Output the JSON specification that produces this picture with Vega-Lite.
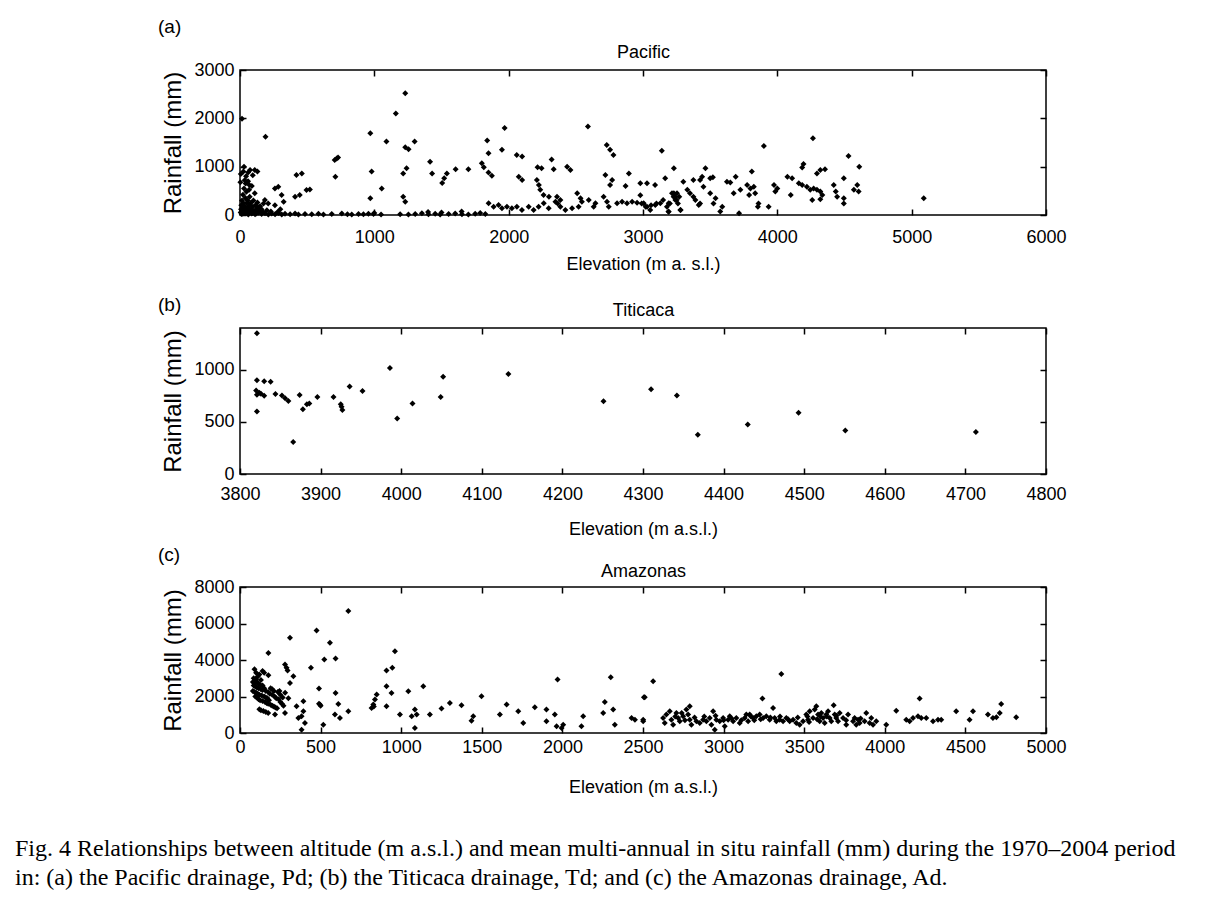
{
  "$schema": "https://vega.github.io/schema/vega-lite/v6.json",
  "background": "white",
  "padding": {"left": 15, "top": 17, "right": 5, "bottom": 5},
  "bounds": "flush",
  "spacing": 113,
  "title": {
    "text": ["Fig. 4  Relationships between altitude (m a.s.l.) and mean multi-annual in situ rainfall (mm) during the 1970–2004 period", "in: (a) the Pacific drainage, Pd; (b) the Titicaca drainage, Td; and (c) the Amazonas drainage, Ad."],
    "orient": "bottom", "anchor": "start", "frame": "group", "dx": -225, "offset": 40,
    "font": "Liberation Serif", "fontSize": 24, "lineHeight": 29, "fontWeight": "normal", "color": "black"
  },
  "datasets": {
    "pacific": [
      {"e":1230,"r":2520},{"e":1160,"r":2100},{"e":15,"r":1990},{"e":190,"r":1620},{"e":970,"r":1690},{"e":1090,"r":1520},{"e":1300,"r":1520},{"e":1230,"r":1400},{"e":1255,"r":1360},{"e":1970,"r":1800},{"e":2590,"r":1830},{"e":1840,"r":1540},{"e":1850,"r":1280},{"e":1950,"r":1350},{"e":2060,"r":1240},{"e":2100,"r":1210},{"e":705,"r":1140},{"e":730,"r":1190},{"e":720,"r":1170},{"e":2730,"r":1450},{"e":2755,"r":1350},{"e":2780,"r":1240},{"e":2320,"r":1150},{"e":2215,"r":990},{"e":2245,"r":965},{"e":2335,"r":945},{"e":2435,"r":1000},{"e":2460,"r":930},{"e":1800,"r":1070},{"e":1815,"r":990},{"e":1850,"r":880},{"e":1875,"r":810},{"e":1605,"r":945},{"e":1700,"r":945},{"e":1540,"r":860},{"e":1520,"r":760},{"e":1505,"r":660},{"e":1415,"r":1100},{"e":1430,"r":860},{"e":1215,"r":860},{"e":1240,"r":965},{"e":980,"r":900},{"e":710,"r":790},{"e":420,"r":830},{"e":460,"r":860},{"e":110,"r":930},{"e":75,"r":930},{"e":30,"r":1000},{"e":2720,"r":830},{"e":2770,"r":725},{"e":2895,"r":860},{"e":2755,"r":620},{"e":2870,"r":600},{"e":2980,"r":655},{"e":2075,"r":790},{"e":2100,"r":725},{"e":2210,"r":725},{"e":2225,"r":620},{"e":2235,"r":520},{"e":2260,"r":415},{"e":2300,"r":380},{"e":2360,"r":380},{"e":2385,"r":310},{"e":2365,"r":240},{"e":2510,"r":450},{"e":2535,"r":345},{"e":2545,"r":275},{"e":1055,"r":550},{"e":1215,"r":380},{"e":1230,"r":275},{"e":970,"r":345},{"e":260,"r":550},{"e":285,"r":585},{"e":495,"r":515},{"e":520,"r":530},{"e":410,"r":380},{"e":445,"r":415},{"e":310,"r":415},{"e":325,"r":275},{"e":185,"r":310},{"e":210,"r":240},
      {"e":2707,"r":380},{"e":2732,"r":276},{"e":2745,"r":172},{"e":2807,"r":241},{"e":2844,"r":276},{"e":2881,"r":241},{"e":2919,"r":276},{"e":2956,"r":255},{"e":2596,"r":310},{"e":2633,"r":172},{"e":2646,"r":241},{"e":1851,"r":241},{"e":1888,"r":172},{"e":1925,"r":207},{"e":1950,"r":138},{"e":1987,"r":172},{"e":2024,"r":138},{"e":2061,"r":172},{"e":2099,"r":103},{"e":2149,"r":172},{"e":2186,"r":103},{"e":2223,"r":172},{"e":2261,"r":241},{"e":2298,"r":138},{"e":2348,"r":276},{"e":2385,"r":172},{"e":2422,"r":103},{"e":2472,"r":138},{"e":2521,"r":172},
      {"e":12,"r":20},{"e":37,"r":40},{"e":62,"r":10},{"e":87,"r":30},{"e":112,"r":15},{"e":137,"r":50},{"e":161,"r":20},{"e":186,"r":35},{"e":211,"r":10},{"e":236,"r":30},{"e":261,"r":15},{"e":286,"r":40},{"e":311,"r":10},{"e":335,"r":25},{"e":373,"r":15},{"e":410,"r":30},{"e":435,"r":10},{"e":484,"r":20},{"e":534,"r":15},{"e":584,"r":25},{"e":621,"r":10},{"e":683,"r":20},{"e":758,"r":30},{"e":832,"r":10},{"e":882,"r":20},{"e":919,"r":15},{"e":956,"r":25},{"e":994,"r":20},{"e":1192,"r":15},{"e":1254,"r":10},{"e":1304,"r":20},{"e":1354,"r":35},{"e":1403,"r":15},{"e":1453,"r":25},{"e":1490,"r":10},{"e":1553,"r":20},{"e":1602,"r":30},{"e":1652,"r":15},{"e":1751,"r":25},{"e":1788,"r":40},{"e":1826,"r":20},{"e":1700,"r":10},{"e":1400,"r":60},{"e":1500,"r":50},{"e":1650,"r":70},{"e":1050,"r":10},{"e":1000,"r":40},{"e":800,"r":15},
      {"e":5,"r":50},{"e":8,"r":120},{"e":10,"r":200},{"e":12,"r":80},{"e":15,"r":300},{"e":18,"r":150},{"e":20,"r":30},{"e":22,"r":420},{"e":25,"r":250},{"e":28,"r":100},{"e":30,"r":550},{"e":35,"r":180},{"e":38,"r":60},{"e":40,"r":350},{"e":42,"r":650},{"e":45,"r":120},{"e":48,"r":480},{"e":50,"r":250},{"e":55,"r":40},{"e":58,"r":300},{"e":60,"r":700},{"e":62,"r":150},{"e":65,"r":80},{"e":68,"r":520},{"e":70,"r":200},{"e":72,"r":380},{"e":75,"r":60},{"e":80,"r":250},{"e":85,"r":120},{"e":88,"r":600},{"e":90,"r":40},{"e":95,"r":170},{"e":100,"r":300},{"e":105,"r":80},{"e":110,"r":450},{"e":115,"r":200},{"e":120,"r":30},{"e":125,"r":130},{"e":130,"r":260},{"e":140,"r":80},{"e":150,"r":180},{"e":160,"r":120},{"e":170,"r":60},{"e":3,"r":680},{"e":6,"r":850},{"e":25,"r":900},{"e":45,"r":800},{"e":60,"r":880},{"e":95,"r":820},{"e":130,"r":900},{"e":140,"r":160},{"e":200,"r":100},{"e":230,"r":70},{"e":260,"r":200},{"e":300,"r":120},{"e":280,"r":60},{"e":175,"r":240},{"e":35,"r":720},{"e":70,"r":620},
      {"e":4265,"r":1590},{"e":3900,"r":1430},{"e":4530,"r":1220},{"e":4610,"r":1000},{"e":3140,"r":1330},{"e":4195,"r":1055},{"e":4185,"r":985},{"e":4320,"r":930},{"e":4355,"r":945},{"e":4295,"r":860},{"e":4495,"r":760},{"e":4075,"r":790},{"e":4110,"r":760},{"e":3810,"r":900},{"e":3465,"r":965},{"e":3230,"r":965},{"e":3500,"r":760},{"e":3520,"r":780},{"e":3440,"r":790},{"e":3425,"r":725},{"e":3690,"r":790},{"e":3625,"r":690},{"e":3650,"r":670},{"e":3375,"r":725},{"e":3300,"r":690},{"e":3165,"r":760},{"e":3090,"r":620},{"e":3030,"r":655},{"e":4160,"r":655},{"e":4185,"r":620},{"e":4220,"r":585},{"e":4245,"r":520},{"e":4270,"r":550},{"e":4295,"r":520},{"e":4320,"r":485},{"e":4335,"r":415},{"e":4420,"r":620},{"e":4435,"r":485},{"e":4445,"r":380},{"e":4495,"r":345},{"e":4260,"r":310},{"e":4320,"r":325},{"e":4595,"r":620},{"e":4605,"r":485},{"e":4570,"r":520},{"e":4495,"r":240},{"e":5090,"r":345},{"e":3975,"r":620},{"e":4000,"r":550},{"e":3985,"r":485},{"e":4100,"r":415},{"e":3775,"r":620},{"e":3800,"r":550},{"e":3825,"r":585},{"e":3835,"r":450},{"e":3790,"r":415},{"e":3725,"r":520},{"e":3675,"r":450},{"e":3860,"r":240},{"e":3855,"r":170},{"e":3935,"r":170},{"e":3715,"r":35},{"e":3575,"r":70},{"e":3590,"r":170},{"e":3525,"r":240},{"e":3540,"r":345},{"e":3500,"r":450},{"e":3450,"r":585},{"e":3330,"r":520},{"e":3350,"r":450},{"e":3375,"r":380},{"e":3390,"r":310},{"e":3415,"r":205},{"e":3425,"r":240},{"e":3230,"r":450},{"e":3240,"r":380},{"e":3250,"r":310},{"e":3260,"r":240},{"e":3270,"r":380},{"e":3200,"r":240},{"e":3190,"r":70},{"e":3280,"r":105},{"e":3150,"r":310},{"e":3100,"r":240},{"e":3060,"r":200},{"e":3020,"r":170},{"e":2990,"r":240},{"e":2980,"r":410},
      {"e":3030,"r":172},{"e":3054,"r":103},{"e":3091,"r":207},{"e":3129,"r":241},{"e":3178,"r":172},{"e":3191,"r":241},{"e":3005,"r":241},{"e":3216,"r":448},{"e":3228,"r":380},{"e":3241,"r":310},{"e":3253,"r":448},{"e":3278,"r":103},{"e":3191,"r":69}
    ],
    "titicaca": [
      {"e":3821,"r":1350},{"e":3821,"r":900},{"e":3830,"r":890},{"e":3838,"r":885},{"e":3820,"r":800},{"e":3821,"r":760},{"e":3824,"r":780},{"e":3826,"r":770},{"e":3830,"r":750},{"e":3821,"r":600},{"e":3844,"r":768},{"e":3852,"r":752},{"e":3856,"r":726},{"e":3860,"r":700},{"e":3866,"r":306},{"e":3874,"r":758},{"e":3878,"r":622},{"e":3883,"r":668},{"e":3886,"r":677},{"e":3896,"r":739},{"e":3916,"r":739},{"e":3925,"r":668},{"e":3926,"r":645},{"e":3927,"r":613},{"e":3936,"r":839},{"e":3952,"r":797},{"e":3986,"r":1016},{"e":3995,"r":532},{"e":4014,"r":677},{"e":4049,"r":739},{"e":4052,"r":932},{"e":4133,"r":958},{"e":4251,"r":697},{"e":4310,"r":813},{"e":4342,"r":752},{"e":4368,"r":377},{"e":4430,"r":474},{"e":4493,"r":587},{"e":4551,"r":416},{"e":4713,"r":403}
    ],
    "amazonas": [
      {"e":672,"r":6680},{"e":475,"r":5620},{"e":310,"r":5215},{"e":558,"r":4940},{"e":176,"r":4390},{"e":961,"r":4480},{"e":523,"r":4025},{"e":593,"r":4080},{"e":440,"r":3570},{"e":909,"r":3420},{"e":945,"r":3570},{"e":279,"r":3750},{"e":289,"r":3570},{"e":295,"r":3420},{"e":331,"r":3110},{"e":176,"r":3170},{"e":310,"r":2745},{"e":490,"r":2435},{"e":909,"r":2560},{"e":940,"r":2195},{"e":1044,"r":2290},{"e":1137,"r":2560},{"e":1498,"r":2010},{"e":1970,"r":2930},{"e":2300,"r":3055},{"e":2506,"r":1960},{"e":593,"r":2195},{"e":393,"r":1740},{"e":351,"r":1465},{"e":496,"r":1556},{"e":500,"r":1500},{"e":490,"r":1600},{"e":610,"r":1590},{"e":848,"r":2105},{"e":837,"r":1830},{"e":827,"r":1556},{"e":816,"r":1373},{"e":830,"r":1450},{"e":909,"r":1464},{"e":217,"r":1007},{"e":279,"r":1098},{"e":393,"r":1190},{"e":382,"r":915},{"e":362,"r":824},{"e":403,"r":549},{"e":382,"r":183},{"e":517,"r":458},{"e":589,"r":1007},{"e":620,"r":824},{"e":672,"r":1190},{"e":992,"r":1007},{"e":1065,"r":915},{"e":1085,"r":1281},{"e":1096,"r":1007},{"e":1085,"r":275},{"e":1178,"r":1007},{"e":1250,"r":1336},{"e":1302,"r":1647},{"e":1374,"r":1519},{"e":1447,"r":915},{"e":1436,"r":677},{"e":1612,"r":1007},{"e":1654,"r":1556},{"e":1726,"r":1190},{"e":1757,"r":549},{"e":1829,"r":1409},{"e":1901,"r":1281},{"e":1901,"r":640},{"e":1953,"r":1007},{"e":1964,"r":366},{"e":2005,"r":458},{"e":1995,"r":275},{"e":2118,"r":366},{"e":2129,"r":915},{"e":2253,"r":1098},{"e":2263,"r":1702},{"e":2315,"r":1281},{"e":2325,"r":458},{"e":2429,"r":824},{"e":2450,"r":732},{"e":2501,"r":640},
      {"e":90,"r":3500},{"e":100,"r":3300},{"e":110,"r":3100},{"e":95,"r":2900},{"e":105,"r":2800},{"e":115,"r":2700},{"e":125,"r":2650},{"e":85,"r":2600},{"e":95,"r":2550},{"e":105,"r":2500},{"e":115,"r":2450},{"e":130,"r":2400},{"e":140,"r":2350},{"e":80,"r":2300},{"e":90,"r":2250},{"e":100,"r":2200},{"e":110,"r":2150},{"e":120,"r":2100},{"e":135,"r":2050},{"e":150,"r":2000},{"e":160,"r":1950},{"e":170,"r":1900},{"e":95,"r":2000},{"e":105,"r":1950},{"e":115,"r":1850},{"e":125,"r":1800},{"e":140,"r":1750},{"e":155,"r":1700},{"e":165,"r":1650},{"e":175,"r":1600},{"e":190,"r":1550},{"e":200,"r":1500},{"e":210,"r":1450},{"e":220,"r":1400},{"e":230,"r":1350},{"e":120,"r":1300},{"e":130,"r":1250},{"e":145,"r":1200},{"e":160,"r":1150},{"e":175,"r":1100},{"e":90,"r":2700},{"e":100,"r":2950},{"e":120,"r":3200},{"e":130,"r":2900},{"e":140,"r":2600},{"e":150,"r":2450},{"e":160,"r":2300},{"e":175,"r":2250},{"e":185,"r":2150},{"e":200,"r":2100},{"e":215,"r":2000},{"e":225,"r":1900},{"e":240,"r":1850},{"e":250,"r":1700},{"e":260,"r":1600},{"e":270,"r":1500},{"e":235,"r":2250},{"e":250,"r":2100},{"e":265,"r":1950},{"e":80,"r":2800},{"e":85,"r":3000},{"e":200,"r":2400},{"e":210,"r":2300},{"e":180,"r":1800},{"e":190,"r":2450},{"e":245,"r":2300},{"e":280,"r":2200},{"e":300,"r":1900},{"e":150,"r":3300},{"e":140,"r":3400},
      {"e":2563,"r":2837},{"e":2511,"r":1958},{"e":3358,"r":3239},{"e":3241,"r":1885},{"e":4216,"r":1885},{"e":3683,"r":1519},{"e":4722,"r":1592},{"e":4071,"r":1226},{"e":2501,"r":732},
      {"e":2625,"r":824},{"e":2635,"r":549},{"e":2645,"r":1007},{"e":2666,"r":1190},{"e":2676,"r":732},{"e":2687,"r":458},{"e":2707,"r":1098},{"e":2718,"r":824},{"e":2728,"r":641},{"e":2749,"r":915},{"e":2769,"r":1281},{"e":2780,"r":1007},{"e":2790,"r":1464},{"e":2790,"r":732},{"e":2800,"r":458},{"e":2831,"r":641},{"e":2852,"r":549},{"e":2873,"r":732},{"e":2893,"r":641},{"e":2914,"r":824},{"e":2924,"r":458},{"e":2935,"r":1190},{"e":2945,"r":183},{"e":2955,"r":732},{"e":2976,"r":641},{"e":2997,"r":824},{"e":3007,"r":366},{"e":3028,"r":732},{"e":3038,"r":915},{"e":3059,"r":641},{"e":3079,"r":824},{"e":3100,"r":549},{"e":3131,"r":824},{"e":3141,"r":1007},{"e":3152,"r":641},{"e":3162,"r":1007},{"e":3183,"r":824},{"e":3203,"r":915},{"e":3224,"r":1007},{"e":3245,"r":824},{"e":3265,"r":915},{"e":3286,"r":732},{"e":3307,"r":1373},{"e":3317,"r":824},{"e":3327,"r":641},{"e":3348,"r":732},{"e":3369,"r":641},{"e":3389,"r":824},{"e":3410,"r":641},{"e":3431,"r":732},{"e":3451,"r":549},{"e":3472,"r":458},{"e":3493,"r":641},{"e":3513,"r":1007},{"e":3524,"r":732},{"e":3534,"r":1190},{"e":3555,"r":824},{"e":3565,"r":1281},{"e":3575,"r":1464},{"e":3586,"r":1007},{"e":3596,"r":641},{"e":3606,"r":1098},{"e":3617,"r":824},{"e":3627,"r":549},{"e":3637,"r":1007},{"e":3648,"r":1190},{"e":3658,"r":824},{"e":3668,"r":641},{"e":3689,"r":1007},{"e":3699,"r":824},{"e":3710,"r":641},{"e":3720,"r":1098},{"e":3741,"r":824},{"e":3761,"r":458},{"e":3772,"r":1007},{"e":3803,"r":641},{"e":3813,"r":824},{"e":3823,"r":458},{"e":3834,"r":732},{"e":3844,"r":549},{"e":3875,"r":641},{"e":3885,"r":1098},{"e":3906,"r":549},{"e":3916,"r":824},{"e":3927,"r":458},{"e":3947,"r":641},{"e":4009,"r":458},{"e":4133,"r":732},{"e":4154,"r":641},{"e":4175,"r":824},{"e":4206,"r":915},{"e":4226,"r":824},{"e":4257,"r":824},{"e":4299,"r":641},{"e":4330,"r":732},{"e":4350,"r":732},{"e":4443,"r":1190},{"e":4526,"r":732},{"e":4547,"r":1190},{"e":4640,"r":1007},{"e":4671,"r":824},{"e":4692,"r":860},{"e":4713,"r":1098},{"e":4815,"r":860},
      {"e":2700,"r":900},{"e":2760,"r":700},{"e":2820,"r":850},{"e":2880,"r":900},{"e":2950,"r":950},{"e":3000,"r":700},{"e":3050,"r":800},{"e":3110,"r":700},{"e":3170,"r":900},{"e":3230,"r":750},{"e":3290,"r":850},{"e":3350,"r":900},{"e":3400,"r":750},{"e":3460,"r":850},{"e":3520,"r":900},{"e":3580,"r":750},{"e":3640,"r":900},{"e":3700,"r":950},{"e":3760,"r":700},{"e":3850,"r":800},{"e":2740,"r":1100},{"e":3190,"r":700},{"e":3600,"r":900},{"e":3530,"r":600}
    ]
  },
  "vconcat": [
    {
      "width": 806, "height": 145,
      "title": {"text": "(a)", "anchor": "start", "frame": "group", "dx": -82, "offset": 6},
      "data": {"name": "pacific"},
      "layer": [
        {
          "mark": {"type": "point", "shape": "diamond", "filled": true, "color": "black", "size": 36, "opacity": 1},
          "encoding": {
            "x": {"field": "e", "type": "quantitative", "scale": {"domain": [0, 6000], "nice": false}, "axis": {"orient": "bottom", "values": [0, 1000, 2000, 3000, 4000, 5000, 6000], "labelPadding": 19, "title": "Elevation (m a. s.l.)", "titlePadding": 9}},
            "y": {"field": "r", "type": "quantitative", "scale": {"domain": [0, 3000], "nice": false}, "axis": {"orient": "left", "values": [0, 1000, 2000, 3000], "title": "Rainfall (mm)"}}
          }
        },
        {
          "mark": {"type": "point", "opacity": 0},
          "encoding": {
            "x": {"field": "e", "type": "quantitative", "axis": {"orient": "top", "values": [0, 1000, 2000, 3000, 4000, 5000, 6000], "labels": false, "title": "Pacific", "titlePadding": 8}},
            "y": {"field": "r", "type": "quantitative", "axis": {"orient": "right", "values": [0, 1000, 2000, 3000], "labels": false, "title": null}}
          }
        }
      ],
      "resolve": {"axis": {"x": "independent", "y": "independent"}}
    },
    {
      "width": 806, "height": 146,
      "title": {"text": "(b)", "anchor": "start", "frame": "group", "dx": -82, "offset": -14},
      "data": {"name": "titicaca"},
      "layer": [
        {
          "mark": {"type": "point", "shape": "diamond", "filled": true, "color": "black", "size": 36, "opacity": 1},
          "encoding": {
            "x": {"field": "e", "type": "quantitative", "scale": {"domain": [3800, 4800], "nice": false, "zero": false}, "axis": {"orient": "bottom", "values": [3800, 3900, 4000, 4100, 4200, 4300, 4400, 4500, 4600, 4700, 4800], "labelPadding": 17, "title": "Elevation (m a.s.l.)", "titlePadding": 17}},
            "y": {"field": "r", "type": "quantitative", "scale": {"domain": [0, 1400], "nice": false}, "axis": {"orient": "left", "values": [0, 500, 1000], "title": "Rainfall (mm)"}}
          }
        },
        {
          "mark": {"type": "point", "opacity": 0},
          "encoding": {
            "x": {"field": "e", "type": "quantitative", "axis": {"orient": "top", "values": [3800, 3900, 4000, 4100, 4200, 4300, 4400, 4500, 4600, 4700, 4800], "labels": false, "title": "Titicaca", "titlePadding": 8}},
            "y": {"field": "r", "type": "quantitative", "axis": {"orient": "right", "values": [0, 500, 1000], "labels": false, "title": null}}
          }
        }
      ],
      "resolve": {"axis": {"x": "independent", "y": "independent"}}
    },
    {
      "width": 806, "height": 146,
      "title": {"text": "(c)", "anchor": "start", "frame": "group", "dx": -82, "offset": -3},
      "data": {"name": "amazonas"},
      "layer": [
        {
          "mark": {"type": "point", "shape": "diamond", "filled": true, "color": "black", "size": 36, "opacity": 1},
          "encoding": {
            "x": {"field": "e", "type": "quantitative", "scale": {"domain": [0, 5000], "nice": false}, "axis": {"orient": "bottom", "values": [0, 500, 1000, 1500, 2000, 2500, 3000, 3500, 4000, 4500, 5000], "labelPadding": 11, "title": "Elevation (m a.s.l.)", "titlePadding": 22}},
            "y": {"field": "r", "type": "quantitative", "scale": {"domain": [0, 8000], "nice": false}, "axis": {"orient": "left", "values": [0, 2000, 4000, 6000, 8000], "title": "Rainfall (mm)"}}
          }
        },
        {
          "mark": {"type": "point", "opacity": 0},
          "encoding": {
            "x": {"field": "e", "type": "quantitative", "axis": {"orient": "top", "values": [0, 500, 1000, 1500, 2000, 2500, 3000, 3500, 4000, 4500, 5000], "labels": false, "title": "Amazonas", "titlePadding": 6}},
            "y": {"field": "r", "type": "quantitative", "axis": {"orient": "right", "values": [0, 2000, 4000, 6000, 8000], "labels": false, "title": null}}
          }
        }
      ],
      "resolve": {"axis": {"x": "independent", "y": "independent"}}
    }
  ],
  "config": {
    "font": "Liberation Sans",
    "numberFormat": "d",
    "view": {"stroke": "black", "strokeWidth": 1.5},
    "axis": {"domain": false, "grid": false, "ticks": true, "tickSize": -6, "tickColor": "black", "tickWidth": 1.5, "labelPadding": 12, "labelFont": "Liberation Sans", "labelFontSize": 18, "labelColor": "black", "labelFlush": false, "labelOverlap": false, "titleFont": "Liberation Sans", "titleFontSize": 18, "titleFontWeight": "normal", "titleColor": "black"},
    "axisLeft": {"titleFontSize": 24, "titlePadding": 8},
    "title": {"font": "Liberation Sans", "fontSize": 19, "fontWeight": "normal", "color": "black"}
  }
}
